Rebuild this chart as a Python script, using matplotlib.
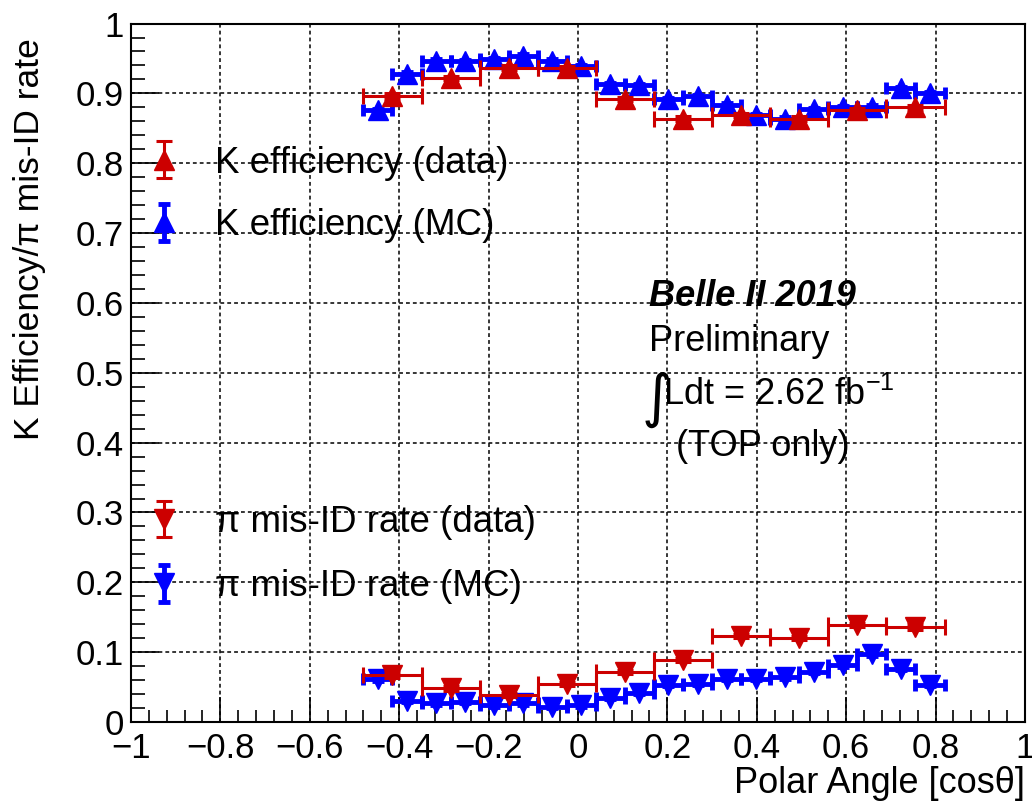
#Grafica de eficiencia de K y tasa de mis-ID de pi (Belle II 2019)

import numpy as np
import matplotlib
matplotlib.use("Agg")
import matplotlib.pyplot as plt
from matplotlib.legend_handler import HandlerErrorbar

plt.rcParams['font.family'] = ['Liberation Sans', 'DejaVu Sans']
plt.rcParams['mathtext.fontset'] = 'custom'
plt.rcParams['mathtext.rm'] = 'Liberation Sans'

# ------------------------------------------------------------------------------

# Datos

# Bines de datos: 10 bines de -0.48 a 0.82
x_data = [-0.415, -0.285, -0.155, -0.025, 0.105, 0.235, 0.365, 0.495, 0.625, 0.755]
xerr_data = 0.065
k_eff_data = [0.896, 0.922, 0.937, 0.936, 0.892, 0.864, 0.869, 0.864, 0.876, 0.880]
k_eff_data_err = [0.004, 0.003, 0.003, 0.003, 0.003, 0.003, 0.003, 0.003, 0.003, 0.004]
pi_mis_data = [0.067, 0.048, 0.039, 0.055, 0.072, 0.089, 0.123, 0.120, 0.139, 0.136]
pi_mis_data_err = [0.004, 0.003, 0.003, 0.003, 0.003, 0.003, 0.003, 0.003, 0.003, 0.004]

# Bines de MC: 20 bines de -0.48 a 0.82
x_mc = [-0.4475, -0.3825, -0.3175, -0.2525, -0.1875, -0.1225, -0.0575, 0.0075,
        0.0725, 0.1375, 0.2025, 0.2675, 0.3325, 0.3975, 0.4625, 0.5275,
        0.5925, 0.6575, 0.7225, 0.7875]
xerr_mc = 0.0325
k_eff_mc = [0.876, 0.928, 0.947, 0.946, 0.949, 0.954, 0.947, 0.939, 0.913, 0.912,
            0.892, 0.896, 0.884, 0.869, 0.864, 0.877, 0.880, 0.881, 0.907, 0.900]
pi_mis_mc = [0.061, 0.030, 0.027, 0.029, 0.024, 0.027, 0.022, 0.024, 0.035, 0.042,
             0.053, 0.055, 0.062, 0.062, 0.064, 0.072, 0.081, 0.097, 0.076, 0.053]
mc_err = 0.002

rojo = '#cc0000'
azul = '#0000ff'

# ------------------------------------------------------------------------------

# Figura

fig = plt.figure(figsize=(10.32, 8.06), dpi=100)
ax = fig.add_axes([0.1269, 0.1042, 0.8663, 0.8666])

# Series de MC (azul)
k_mc = ax.errorbar(x_mc, k_eff_mc, xerr=xerr_mc, yerr=mc_err, fmt='^', color=azul,
                   ms=14, elinewidth=3.5, capsize=4, capthick=3.5, zorder=3,
                   label='K efficiency (MC)')
p_mc = ax.errorbar(x_mc, pi_mis_mc, xerr=xerr_mc, yerr=mc_err, fmt='v', color=azul,
                   ms=14, elinewidth=3.5, capsize=4, capthick=3.5, zorder=3,
                   label='π mis-ID rate (MC)')

# Series de datos (rojo)
k_dt = ax.errorbar(x_data, k_eff_data, xerr=xerr_data, yerr=k_eff_data_err, fmt='^',
                   color=rojo, ms=15, elinewidth=2.2, capsize=6, capthick=2.2, zorder=4,
                   label='K efficiency (data)')
p_dt = ax.errorbar(x_data, pi_mis_data, xerr=xerr_data, yerr=pi_mis_data_err, fmt='v',
                   color=rojo, ms=15, elinewidth=2.2, capsize=6, capthick=2.2, zorder=4,
                   label='π mis-ID rate (data)')

# Ejes
ax.set_xlim(-1, 1)
ax.set_ylim(0, 1)
ax.set_xticks(np.arange(-1, 1.01, 0.2))
ax.set_xticks(np.arange(-1, 1.01, 0.04), minor=True)
ax.set_yticks(np.arange(0, 1.01, 0.1))
ax.set_yticks(np.arange(0, 1.01, 0.02), minor=True)
ax.set_xticklabels(['\u22121', '\u22120.8', '\u22120.6', '\u22120.4', '\u22120.2', '0',
                    '0.2', '0.4', '0.6', '0.8', '1'])
ax.set_yticklabels(['0', '0.1', '0.2', '0.3', '0.4', '0.5', '0.6', '0.7', '0.8', '0.9', '1'])
ax.tick_params(axis='x', which='major', direction='in', length=18, width=1.2, labelsize=25, pad=7)
ax.tick_params(axis='x', which='minor', direction='in', length=9, width=1.2)
ax.tick_params(axis='y', which='major', direction='in', length=20, width=1.2, labelsize=25, pad=5)
ax.tick_params(axis='y', which='minor', direction='in', length=10, width=1.2)
for s in ax.spines.values():
    s.set_linewidth(1.5)

# Rejilla punteada
ax.grid(True, which='major', color='black', linestyle=(0, (2.5, 2)), linewidth=1.1)
ax.set_axisbelow(True)

# Titulos de los ejes
fig.text(0.029, 0.953, 'K Efficiency/π mis-ID rate', rotation=90,
         ha='center', va='top', fontsize=25.5)
fig.text(0.993, 0.028, 'Polar Angle [cosθ]', ha='right', va='center', fontsize=26)

# Leyendas
hm = {c: HandlerErrorbar(xerr_size=0, yerr_size=0.5) for c in [k_dt, k_mc, p_dt, p_mc]}
leg1 = ax.legend(handles=[k_dt, k_mc], loc='upper left', bbox_to_anchor=(0.016, 0.825),
                 frameon=False, fontsize=26.5, handlelength=1.0, handletextpad=0.9,
                 labelspacing=0.75, borderpad=0, borderaxespad=0, handler_map=hm)
ax.add_artist(leg1)
ax.legend(handles=[p_dt, p_mc], loc='upper left', bbox_to_anchor=(0.016, 0.311),
          frameon=False, fontsize=26.5, handlelength=1.0, handletextpad=0.9,
          labelspacing=0.8, borderpad=0, borderaxespad=0, handler_map=hm)

# Textos
ax.text(0.580, 0.609, 'Belle II 2019', transform=ax.transAxes, fontsize=26,
        fontweight='bold', style='italic', va='center')
ax.text(0.580, 0.545, 'Preliminary', transform=ax.transAxes, fontsize=26, va='center')
ax.text(0.571, 0.462, '∫', transform=ax.transAxes, fontsize=42, va='center',
        family='DejaVu Sans')
ax.text(0.595, 0.469, r'Ldt = 2.62 fb$^{\mathrm{-1}}$', transform=ax.transAxes,
        fontsize=26, va='center')
ax.text(0.610, 0.394, '(TOP only)', transform=ax.transAxes, fontsize=26, va='center')

fig.savefig('out.png', dpi=100)
